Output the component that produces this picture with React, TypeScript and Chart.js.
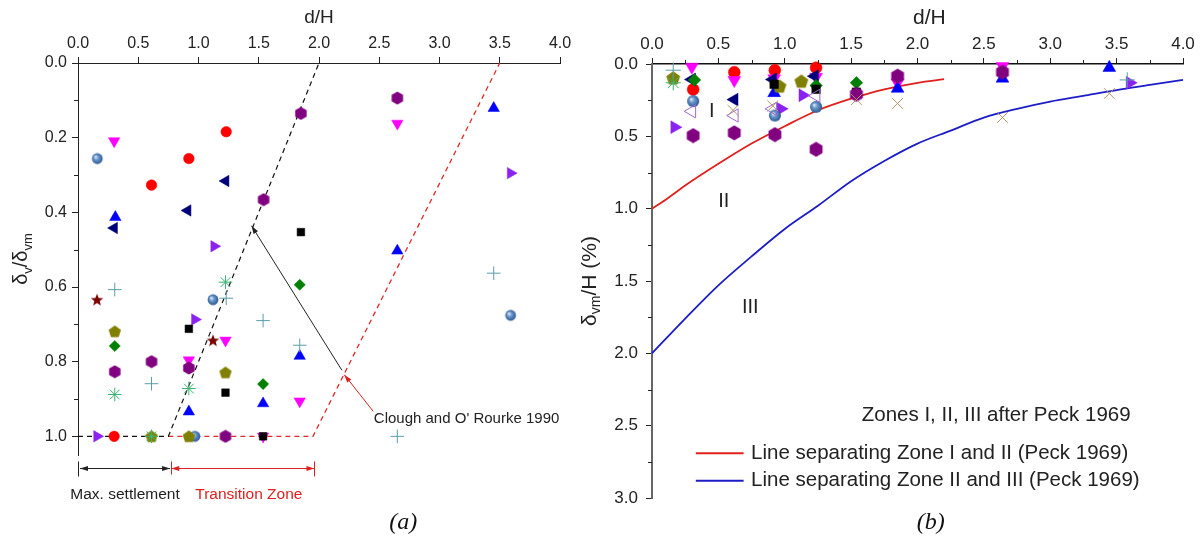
import React, { useEffect, useRef } from "react";
import { Chart, registerables } from "chart.js";
Chart.register(...registerables);

type P = [number, number];
const FONT = "'Liberation Sans', Arial, sans-serif";
const SERIF = "'Liberation Serif', 'Times New Roman', serif";

// ---------- axis ticks ----------
const xTicksA = [0, 0.5, 1.0, 1.5, 2.0, 2.5, 3.0, 3.5, 4.0];
const yTicksA = [0, 0.2, 0.4, 0.6, 0.8, 1.0];
const yMinorA = [0.1, 0.3, 0.5, 0.7, 0.9];
const xTicksB = [0, 0.5, 1.0, 1.5, 2.0, 2.5, 3.0, 3.5, 4.0];
const xMinorB = [0.25, 0.75, 1.25, 1.75, 2.25, 2.75, 3.25, 3.75];
const yTicksB = [0, 0.5, 1.0, 1.5, 2.0, 2.5, 3.0];
const yMinorB = [0.25, 0.75, 1.25, 1.75, 2.25, 2.75];

// ---------- panel (a): d/H vs δv/δvm ----------
const redCircleA: P[] = [[0.92, 0.256], [1.23, 0.184], [0.61, 0.327], [0.30, 1.0]];
const magentaDownA: P[] = [[0.30, 0.209], [2.65, 0.162], [1.224, 0.743], [0.92, 0.796], [1.84, 0.906], [1.536, 1.0]];
const blueUpA: P[] = [[3.45, 0.121], [0.31, 0.413], [2.65, 0.503], [1.84, 0.785], [1.536, 0.912], [0.92, 0.934]];
const navyLeftA: P[] = [[1.225, 0.316], [0.91, 0.395], [0.30, 0.442]];
const violetRightA: P[] = [[3.59, 0.295], [1.13, 0.491], [0.97, 0.687], [0.158, 1.0]];
const purpleHexA: P[] = [[2.65, 0.094], [1.85, 0.135], [1.54, 0.366], [0.61, 0.80], [0.92, 0.817], [0.305, 0.827], [1.224, 1.0]];
const sphereA: P[] = [[0.16, 0.256], [1.12, 0.634], [3.59, 0.676], [0.97, 1.0]];
const blackSquareA: P[] = [[1.85, 0.453], [0.92, 0.712], [1.224, 0.883], [1.536, 1.0]];
const olivePentA: P[] = [[0.305, 0.719], [1.224, 0.829], [0.92, 1.0], [0.61, 1.0]];
const greenDiamondA: P[] = [[1.84, 0.594], [0.305, 0.758], [1.536, 0.86]];
const greenAsteriskA: P[] = [[1.224, 0.587], [0.92, 0.872], [0.305, 0.888], [0.61, 1.0]];
const cyanPlusA: P[] = [[3.45, 0.563], [0.305, 0.607], [1.23, 0.63], [1.536, 0.69], [1.84, 0.756], [0.61, 0.859], [2.65, 1.0]];
const darkStarA: P[] = [[0.158, 0.634], [1.12, 0.743]];

// Clough & O'Rourke (1990) envelope lines
const cloughBlack: P[] = [[0, 1.0], [0.75, 1.0], [2.0, 0.0]];
const cloughRed: P[] = [[0.75, 1.0], [1.95, 1.0], [3.5, 0.0]];

// annotation anchors (data units)
const arrowBlackA: P[] = [[2.19, 0.823], [1.44, 0.436]];
const arrowRedA: P[] = [[2.45, 0.933], [2.21, 0.835]];
const cloughLabel = "Clough and O' Rourke 1990";
const cloughLabelPos: P = [2.455, 0.953];
const spanMax: P = [0, 0.764];
const spanTransition: P = [0.774, 1.962];
const spanY = 1.085;
const spanLabelY = 1.156;

// ---------- panel (b): d/H vs δvm/H (%) ----------
const redCircleB: P[] = [[0.31, 0.176], [0.62, 0.057], [0.925, 0.043], [1.236, 0.026]];
const magentaDownB: P[] = [[0.30, 0.02], [0.62, 0.112], [1.236, 0.09], [1.85, 0.13], [2.64, 0.015], [0.92, 0.1]];
const blueUpB: P[] = [[0.92, 0.2], [1.85, 0.17], [2.64, 0.10], [3.445, 0.026]];
const navyLeftB: P[] = [[0.30, 0.107], [0.62, 0.246], [0.91, 0.107], [1.225, 0.084]];
const violetRightB: P[] = [[0.17, 0.437], [0.97, 0.31], [1.135, 0.216], [3.6, 0.13]];
const purpleHexB: P[] = [[0.31, 0.495], [0.62, 0.476], [0.926, 0.488], [1.236, 0.59], [1.54, 0.21], [1.85, 0.084], [2.64, 0.057]];
const sphereB: P[] = [[0.31, 0.257], [0.926, 0.356], [1.236, 0.296]];
const blackSquareB: P[] = [[0.92, 0.14], [1.54, 0.195], [1.236, 0.175]];
const olivePentB: P[] = [[0.16, 0.096], [0.96, 0.153], [1.125, 0.119]];
const greenDiamondB: P[] = [[0.32, 0.11], [1.236, 0.149], [1.54, 0.13]];
const greenAsteriskB: P[] = [[0.16, 0.13]];
const cyanPlusB: P[] = [[0.16, 0.043], [3.58, 0.11]];
const tanCrossB: P[] = [[0.61, 0.32], [0.91, 0.29], [1.54, 0.246], [1.85, 0.273], [2.64, 0.37], [3.445, 0.204]];
const openVioletB: P[] = [[0.30, 0.327], [0.62, 0.356], [0.91, 0.31], [1.236, 0.22]];

// Peck (1969) zone boundaries
const peckRedX = [0, 0.1, 0.25, 0.5, 0.75, 1.0, 1.25, 1.5, 1.75, 2.0, 2.2];
const peckRedY = [1.0, 0.94, 0.84, 0.69, 0.55, 0.43, 0.32, 0.24, 0.175, 0.13, 0.105];
const peckBlueX = [0, 0.25, 0.5, 0.75, 1.0, 1.25, 1.5, 1.75, 2.0, 2.25, 2.5, 2.75, 3.0, 3.25, 3.5, 3.75, 4.0];
const peckBlueY = [2.0, 1.76, 1.53, 1.33, 1.14, 0.98, 0.81, 0.67, 0.55, 0.46, 0.37, 0.31, 0.26, 0.22, 0.18, 0.145, 0.11];

const zoneLabels: { t: string; x: number; y: number }[] = [
  { t: "I", x: 0.45, y: 0.33 },
  { t: "II", x: 0.54, y: 0.95 },
  { t: "III", x: 0.74, y: 1.68 },
];
const zonesNote = "Zones I, II, III after Peck 1969";
const zonesNotePos: P = [1.58, 2.43];
const legendItems = [
  { label: "Line separating Zone I and II (Peck 1969)", color: "#e0201c", y: 2.69 },
  { label: "Line separating Zone II and III (Peck 1969)", color: "#1c1cc8", y: 2.88 },
];
const legendLineX: P = [0.33, 0.69];
const legendTextX = 0.746;

// ---------- helpers ----------
function mk(size: number, draw: (c: CanvasRenderingContext2D, s: number) => void) {
  const cv = document.createElement("canvas");
  cv.width = size;
  cv.height = size;
  const c = cv.getContext("2d")!;
  draw(c, size);
  return cv;
}
function poly(c: CanvasRenderingContext2D, n: number, r: number, cx: number, cy: number, r2?: number) {
  c.beginPath();
  const m = r2 ? n * 2 : n;
  for (let i = 0; i < m; i++) {
    const a = (i * 2 * Math.PI) / m;
    const rr = r2 && i % 2 === 1 ? r2 : r;
    const x = cx + rr * Math.sin(a);
    const y = cy - rr * Math.cos(a);
    if (i === 0) c.moveTo(x, y);
    else c.lineTo(x, y);
  }
  c.closePath();
}

function buildStyles(k: number) {
  const n = Math.ceil(14 * k);
  const h = n / 2;
  const hex = mk(n, (c) => { poly(c, 6, 6.6 * k, h, h); c.fillStyle = "#800080"; c.fill(); });
  const pent = mk(n, (c) => { poly(c, 5, 6.5 * k, h, h + 0.5); c.fillStyle = "#808000"; c.fill(); });
  const star = mk(n, (c) => { poly(c, 5, 6.6 * k, h, h + 0.5, 2.8 * k); c.fillStyle = "#7a0000"; c.fill(); });
  const sphere = mk(n, (c) => {
    const g = c.createRadialGradient(h - 1.8 * k, h - 1.8 * k, 0.4, h, h, 5.8 * k);
    g.addColorStop(0, "#dbe8f7");
    g.addColorStop(0.35, "#6e9bd0");
    g.addColorStop(1, "#24508a");
    c.beginPath(); c.arc(h, h, 5.4 * k, 0, Math.PI * 2); c.fillStyle = g; c.fill();
  });
  const S: Record<string, any> = {
    redCircle: { pointStyle: "circle", pointRadius: 5.3 * k, c: "#ff0000" },
    magentaDown: { pointStyle: "triangle", pointRadius: 6.6 * k, rot: 180, c: "#ff00ff" },
    blueUp: { pointStyle: "triangle", pointRadius: 6.6 * k, c: "#0000ff" },
    navyLeft: { pointStyle: "triangle", pointRadius: 6.6 * k, rot: 270, c: "#00007a" },
    violetRight: { pointStyle: "triangle", pointRadius: 6.6 * k, rot: 90, c: "#8a22f0" },
    purpleHex: { pointStyle: hex, pointRadius: 6 * k },
    sphere: { pointStyle: sphere, pointRadius: 6 * k },
    blackSquare: { pointStyle: "rect", pointRadius: 5.4 * k, c: "#000000" },
    olivePent: { pointStyle: pent, pointRadius: 6 * k },
    greenDiamond: { pointStyle: "rectRot", pointRadius: 5.6 * k, c: "#008000" },
    greenAsterisk: { pointStyle: "star", pointRadius: 6.8 * k, c: "#3cb371", line: true },
    cyanPlus: { pointStyle: "cross", pointRadius: 6.8 * k, c: "#5a9ea8", line: true },
    darkStar: { pointStyle: star, pointRadius: 6 * k },
    tanCross: { pointStyle: "crossRot", pointRadius: 6.8 * k, c: "#b4966a", line: true },
    openViolet: { pointStyle: "triangle", pointRadius: 6.8 * k, rot: 270, c: "#9a6ad0", open: true },
  };
  return S;
}

function ds(style: any, pts: P[]) {
  const fill = style.line || style.open ? "rgba(0,0,0,0)" : style.c || "#000";
  return {
    type: "scatter",
    data: pts.map(([x, y]) => ({ x, y })),
    showLine: false,
    pointStyle: style.pointStyle,
    pointRadius: style.pointRadius,
    pointRotation: style.rot || 0,
    pointBackgroundColor: fill,
    pointBorderColor: style.c || "#000",
    pointBorderWidth: style.line || style.open ? 1 : 0.5,
    clip: false,
    order: 0,
  };
}
function lineDs(pts: P[], color: string, dash: number[], width: number) {
  return {
    type: "scatter",
    data: pts.map(([x, y]) => ({ x, y })),
    showLine: true,
    borderColor: color,
    borderWidth: width,
    borderDash: dash,
    pointRadius: 0,
    fill: false,
    clip: false,
    order: 10,
  };
}
function curveDs(xs: number[], ys: number[], color: string) {
  return {
    type: "scatter",
    data: xs.map((x, i) => ({ x, y: ys[i] })),
    showLine: true,
    borderColor: color,
    borderWidth: 1.8,
    pointRadius: 0,
    cubicInterpolationMode: "monotone",
    fill: false,
    clip: false,
    order: 10,
  };
}

function rich(ctx: CanvasRenderingContext2D, parts: { t: string; sub?: boolean }[], cx: number, cy: number, size: number) {
  ctx.save();
  ctx.translate(cx, cy);
  ctx.rotate(-Math.PI / 2);
  const fm = `${size}px ${FONT}`;
  const fs = `${Math.round(size * 0.66)}px ${FONT}`;
  let w = 0;
  for (const p of parts) { ctx.font = p.sub ? fs : fm; w += ctx.measureText(p.t).width; }
  let x = -w / 2;
  ctx.textAlign = "left";
  ctx.textBaseline = "alphabetic";
  ctx.fillStyle = "#222";
  const base = size * 0.36;
  for (const p of parts) {
    ctx.font = p.sub ? fs : fm;
    ctx.fillText(p.t, x, p.sub ? base + size * 0.22 : base);
    x += ctx.measureText(p.t).width;
  }
  ctx.restore();
}
function head(ctx: CanvasRenderingContext2D, x1: number, y1: number, x2: number, y2: number, hl: number, hw: number) {
  const a = Math.atan2(y2 - y1, x2 - x1);
  ctx.beginPath();
  ctx.moveTo(x2, y2);
  ctx.lineTo(x2 - hl * Math.cos(a) + hw * Math.sin(a), y2 - hl * Math.sin(a) - hw * Math.cos(a));
  ctx.lineTo(x2 - hl * Math.cos(a) - hw * Math.sin(a), y2 - hl * Math.sin(a) + hw * Math.cos(a));
  ctx.closePath();
  ctx.fill();
}
function arrow(ctx: CanvasRenderingContext2D, x1: number, y1: number, x2: number, y2: number, color: string, lw: number, hl: number, hw: number) {
  ctx.strokeStyle = color;
  ctx.fillStyle = color;
  ctx.lineWidth = lw;
  ctx.beginPath();
  ctx.moveTo(x1, y1);
  ctx.lineTo(x2, y2);
  ctx.stroke();
  head(ctx, x1, y1, x2, y2, hl, hw);
}

const annotA = {
  id: "annotA",
  afterDraw(chart: any) {
    const { ctx, chartArea: ca } = chart;
    const X = (v: number) => chart.scales.x.getPixelForValue(v);
    const Y = (v: number) => chart.scales.y.getPixelForValue(v);
    ctx.save();
    ctx.strokeStyle = "#222";
    ctx.lineWidth = 1;
    ctx.beginPath();
    for (const v of yMinorA) { const p = Math.round(Y(v)) + 0.5; ctx.moveTo(ca.left - 4, p); ctx.lineTo(ca.left, p); }
    ctx.stroke();
    // titles
    ctx.fillStyle = "#222";
    ctx.font = `19px ${FONT}`;
    ctx.textAlign = "center";
    ctx.textBaseline = "middle";
    ctx.fillText("d/H", (ca.left + ca.right) / 2, 18);
    rich(ctx, [{ t: "δ" }, { t: "v", sub: true }, { t: "/δ" }, { t: "vm", sub: true }], 20, (ca.top + ca.bottom) / 2, 20);
    // arrows
    arrow(ctx, X(arrowBlackA[0][0]), Y(arrowBlackA[0][1]), X(arrowBlackA[1][0]), Y(arrowBlackA[1][1]), "#222", 1, 8, 2.6);
    arrow(ctx, X(arrowRedA[0][0]), Y(arrowRedA[0][1]), X(arrowRedA[1][0]), Y(arrowRedA[1][1]), "#e02020", 1, 8, 2.6);
    ctx.fillStyle = "#222";
    ctx.font = `15px ${FONT}`;
    ctx.textAlign = "left";
    ctx.textBaseline = "middle";
    ctx.fillText(cloughLabel, X(cloughLabelPos[0]), Y(cloughLabelPos[1]));
    // spans below axis
    const sy = Math.round(Y(spanY)) + 0.5;
    const drawSpan = (a: number, b: number, color: string) => {
      ctx.strokeStyle = color; ctx.fillStyle = color; ctx.lineWidth = 1;
      ctx.beginPath(); ctx.moveTo(a, sy); ctx.lineTo(b, sy); ctx.stroke();
      head(ctx, b, sy, a, sy, 8, 2.6);
      head(ctx, a, sy, b, sy, 8, 2.6);
    };
    const bx0 = X(spanMax[0]), bx1 = X(spanMax[1]);
    const rx0 = X(spanTransition[0]), rx1 = X(spanTransition[1]);
    drawSpan(bx0 + 2, bx1, "#222");
    drawSpan(rx0, rx1, "#e02020");
    ctx.lineWidth = 1;
    ctx.strokeStyle = "#222";
    ctx.beginPath(); ctx.moveTo(Math.round(bx0) + 0.5, sy - 7); ctx.lineTo(Math.round(bx0) + 0.5, sy + 8); ctx.stroke();
    ctx.strokeStyle = "#e02020";
    ctx.beginPath();
    ctx.moveTo(Math.round(rx0) + 0.5, sy - 7); ctx.lineTo(Math.round(rx0) + 0.5, sy + 6);
    ctx.moveTo(Math.round(rx1) + 0.5, sy - 7); ctx.lineTo(Math.round(rx1) + 0.5, sy + 8);
    ctx.stroke();
    ctx.font = `15.5px ${FONT}`;
    ctx.textAlign = "center";
    ctx.fillStyle = "#222";
    ctx.fillText("Max. settlement", (bx0 + bx1) / 2 + 1, Y(spanLabelY));
    ctx.fillStyle = "#e02020";
    ctx.fillText("Transition Zone", (rx0 + rx1) / 2 + 6, Y(spanLabelY));
    // caption
    ctx.fillStyle = "#111";
    ctx.font = `italic 24px ${SERIF}`;
    ctx.fillText("(a)", X(2.7), 523);
    ctx.restore();
  },
};

const annotB = {
  id: "annotB",
  afterDraw(chart: any) {
    const { ctx, chartArea: ca } = chart;
    const X = (v: number) => chart.scales.x.getPixelForValue(v);
    const Y = (v: number) => chart.scales.y.getPixelForValue(v);
    ctx.save();
    ctx.strokeStyle = "#222";
    ctx.lineWidth = 1;
    ctx.beginPath();
    for (const v of xMinorB) { const p = Math.round(X(v)) + 0.5; ctx.moveTo(p, ca.top - 4); ctx.lineTo(p, ca.top); }
    for (const v of yMinorB) { const p = Math.round(Y(v)) + 0.5; ctx.moveTo(ca.left - 4, p); ctx.lineTo(ca.left, p); }
    ctx.stroke();
    ctx.fillStyle = "#222";
    ctx.font = `21px ${FONT}`;
    ctx.textAlign = "center";
    ctx.textBaseline = "middle";
    ctx.fillText("d/H", X(2.09), 18);
    rich(ctx, [{ t: "δ" }, { t: "vm", sub: true }, { t: "/H (%)" }], 18, (ca.top + ca.bottom) / 2, 21);
    ctx.font = `20px ${FONT}`;
    for (const z of zoneLabels) ctx.fillText(z.t, X(z.x), Y(z.y));
    ctx.textAlign = "left";
    ctx.font = `20.5px ${FONT}`;
    ctx.fillText(zonesNote, X(zonesNotePos[0]), Y(zonesNotePos[1]));
    for (const it of legendItems) {
      const yy = Y(it.y);
      ctx.strokeStyle = it.color;
      ctx.lineWidth = 2;
      ctx.beginPath(); ctx.moveTo(X(legendLineX[0]), yy); ctx.lineTo(X(legendLineX[1]), yy); ctx.stroke();
      ctx.fillStyle = "#222";
      ctx.fillText(it.label, X(legendTextX), yy);
    }
    ctx.fillStyle = "#111";
    ctx.textAlign = "center";
    ctx.font = `italic 24px ${SERIF}`;
    ctx.fillText("(b)", X(2.1), 523);
    ctx.restore();
  },
};

function axisX(ticks: number[], h: number, size: number, pad: number, color: string, width: number) {
  return {
    type: "linear",
    position: "top",
    min: 0,
    max: 4,
    afterBuildTicks: (s: any) => { s.ticks = ticks.map((v) => ({ value: v })); },
    afterFit: (s: any) => { s.height = h; },
    grid: { drawOnChartArea: false, drawTicks: true, tickLength: 6, color: "#222", tickColor: "#222", lineWidth: 1 },
    border: { display: true, color, width },
    ticks: { font: { family: FONT, size }, color: "#222", padding: pad, maxRotation: 0, autoSkip: false, callback: (v: any) => Number(v).toFixed(1) },
  };
}
function axisY(ticks: number[], max: number, w: number, size: number, pad: number, color: string, width: number) {
  return {
    type: "linear",
    reverse: true,
    min: 0,
    max,
    afterBuildTicks: (s: any) => { s.ticks = ticks.map((v) => ({ value: v })); },
    afterFit: (s: any) => { s.width = w; },
    grid: { drawOnChartArea: false, drawTicks: true, tickLength: 6, color: "#222", tickColor: "#222", lineWidth: 1 },
    border: { display: true, color, width },
    ticks: { font: { family: FONT, size }, color: "#222", padding: pad, autoSkip: false, callback: (v: any) => Number(v).toFixed(1) },
  };
}

export default function App() {
  const refA = useRef<HTMLCanvasElement>(null);
  const refB = useRef<HTMLCanvasElement>(null);
  useEffect(() => {
    const SA = buildStyles(1);
    const SB = buildStyles(1.12);
    const common = {
      animation: false,
      responsive: false,
      events: [],
      plugins: { legend: { display: false }, tooltip: { enabled: false } },
    };
    const chA = new Chart(refA.current!, {
      type: "scatter",
      data: {
        datasets: [
          lineDs(cloughBlack, "#111", [5, 4], 1.2),
          lineDs(cloughRed, "#dd2a2a", [5, 4], 1.3),
          ds(SA.cyanPlus, cyanPlusA),
          ds(SA.greenAsterisk, greenAsteriskA),
          ds(SA.olivePent, olivePentA),
          ds(SA.greenDiamond, greenDiamondA),
          ds(SA.blackSquare, blackSquareA),
          ds(SA.sphere, sphereA),
          ds(SA.purpleHex, purpleHexA),
          ds(SA.violetRight, violetRightA),
          ds(SA.navyLeft, navyLeftA),
          ds(SA.blueUp, blueUpA),
          ds(SA.magentaDown, magentaDownA),
          ds(SA.redCircle, redCircleA),
          ds(SA.darkStar, darkStarA),
        ] as any,
      },
      options: {
        ...common,
        layout: { padding: { left: 0, top: 0, right: 40, bottom: 83 } },
        scales: {
          x: axisX(xTicksA, 63, 16, 4, "#222", 1),
          y: axisY(yTicksA, 1.05, 78, 16, 5, "#222", 1),
        },
      } as any,
      plugins: [annotA],
    });
    const chB = new Chart(refB.current!, {
      type: "scatter",
      data: {
        datasets: [
          curveDs(peckRedX, peckRedY, "#e0201c"),
          curveDs(peckBlueX, peckBlueY, "#1c1cc8"),
          ds(SB.tanCross, tanCrossB),
          ds(SB.openViolet, openVioletB),
          ds(SB.cyanPlus, cyanPlusB),
          ds(SB.greenAsterisk, greenAsteriskB),
          ds(SB.sphere, sphereB),
          ds(SB.purpleHex, purpleHexB),
          ds(SB.blackSquare, blackSquareB),
          ds(SB.greenDiamond, greenDiamondB),
          ds(SB.olivePent, olivePentB),
          ds(SB.violetRight, violetRightB),
          ds(SB.blueUp, blueUpB),
          ds(SB.navyLeft, navyLeftB),
          ds(SB.magentaDown, magentaDownB),
          ds(SB.redCircle, redCircleB),
        ] as any,
      },
      options: {
        ...common,
        layout: { padding: { left: 0, top: 0, right: 21, bottom: 40 } },
        scales: {
          x: axisX(xTicksB, 64, 17, 3, "#111", 1.5),
          y: axisY(yTicksB, 3.0, 82, 17, 8, "#666", 2),
        },
      } as any,
      plugins: [annotB],
    });
    return () => { chA.destroy(); chB.destroy(); };
  }, []);
  return (
    <div style={{ position: "fixed", left: 0, top: 0, width: 1204, height: 538, background: "#fff" }}>
      <canvas ref={refA} width={600} height={538} style={{ position: "absolute", left: 0, top: 0, width: 600, height: 538 }} />
      <canvas ref={refB} width={634} height={538} style={{ position: "absolute", left: 570, top: 0, width: 634, height: 538 }} />
    </div>
  );
}
